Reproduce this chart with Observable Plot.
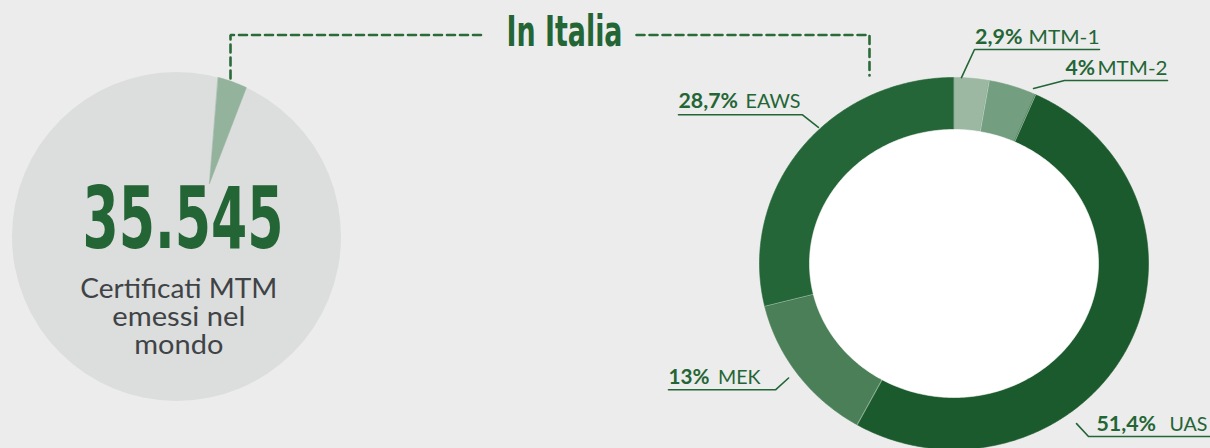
<!DOCTYPE html>
<html><head><meta charset="utf-8">
<script src="https://cdn.jsdelivr.net/npm/d3@7"></script>
<script src="https://cdn.jsdelivr.net/npm/@observablehq/plot@0.6"></script>
<style>
html,body{margin:0;padding:0;background:#ebeceb;overflow:hidden;}
#chart svg{display:block;}
</style></head><body><div id="chart"></div>
<script>
// ---------------- DATA ----------------
const categories = ["MTM-1", "MTM-2", "UAS", "MEK", "EAWS"];
const shares = [2.9, 4, 51.4, 13, 28.7];            // % of Italian certificates
const shareLabels = ["2,9%", "4%", "51,4%", "13%", "28,7%"];
const nameLabels = ["MTM-1", "MTM-2", "UAS", "MEK", "EAWS"];
const worldTotalLabel = "35.545";
const worldCaption = ["Certificati MTM", "emessi nel", "mondo"];
const italyWorldShare = [2.9];                       // Italy's share of world total (wedge)
const titleText = "In Italia";

// ---------------- STYLE / LAYOUT ----------------
const W = 1210, H = 448;
const GREEN = "#236535";
const colors = {"MTM-1": "#9cb8a3", "MTM-2": "#739e7f", "UAS": "#1b5a2c", "MEK": "#4b7f58", "EAWS": "#246637"};
const donut = {cx: 953.5, cy: 263, rx: 194.5, ry: 186, irx: 144, iry: 133.5};
const world = {cx: 176, cy: 236, r: 164.5, sliceStart: 14.7, apexDx: 33, apexDy: -53};
const labelLayout = {
  "MTM-1": {px: 974.5, pw: 47.5, nx: 1028, nw: 71, by: 43.3, uy: 49, ux0: 974, ux1: 1099, la: 2.2, lr: 1.0, side: "right"},
  "MTM-2": {px: 1065, pw: 29.5, nx: 1097, nw: 70, by: 74, uy: 80, ux0: 1064, ux1: 1167, la: 23.5, lr: 1.026, side: "right"},
  "UAS":   {px: 1096, pw: 59.6, nx: 1169, nw: 38, by: 430, uy: 436, ux0: 1088, ux1: 1212, la: 143.8, lr: 1.067, side: "right"},
  "MEK":   {px: 668, pw: 41, nx: 717.5, nw: 42.5, by: 383.3, uy: 389.3, ux0: 668, ux1: 775, la: 234.1, lr: 1.05, side: "left"},
  "EAWS":  {px: 678, pw: 59.5, nx: 745, nw: 55, by: 107.3, uy: 114.3, ux0: 678, ux1: 802, la: 316.4, lr: 1.011, side: "left"}
};

// ---------------- GEOMETRY ----------------
const rad = a => a * Math.PI / 180;
const ell = (a, rx, ry) => ({x: donut.cx + rx * Math.sin(rad(a)), y: donut.cy - ry * Math.cos(rad(a))});

let cum = 0;
const segments = categories.map((c, i) => {
  const a0 = cum * 3.6; cum += shares[i]; const a1 = cum * 3.6;
  const pts = [];
  const n = Math.max(8, Math.ceil((a1 - a0) / 0.5));
  for (let k = 0; k <= n; k++) pts.push(ell(a0 + (a1 - a0) * k / n, donut.rx, donut.ry));
  for (let k = n; k >= 0; k--) pts.push(ell(a0 + (a1 - a0) * k / n, donut.irx, donut.iry));
  return {c, a0, a1, pts};
});
const hole = d3.range(0, 360, 1).map(a => ell(a, donut.irx + 0.5, donut.iry + 0.5));
const separators = segments.map(s => [ell(s.a0, donut.irx, donut.iry), ell(s.a0, donut.rx, donut.ry)]);

// world wedge
const wa0 = world.sliceStart, wa1 = world.sliceStart + italyWorldShare[0] * 3.6;
const worldSlice = d3.range(0, 21).map(k => {
  const a = rad(wa0 + (wa1 - wa0) * k / 20);
  return {x: world.cx + world.r * Math.sin(a), y: world.cy - world.r * Math.cos(a)};
});
worldSlice.push({x: world.cx + world.apexDx, y: world.cy + world.apexDy});

// labels
const labels = categories.map((c, i) => ({c, pct: shareLabels[i], name: nameLabels[i], ...labelLayout[c]}));
const leaders = labels.map(l => {
  const end = ell(l.la, donut.rx * l.lr, donut.ry * l.lr);
  return l.side === "right"
    ? [{x: l.ux1, y: l.uy}, {x: l.ux0, y: l.uy}, end]
    : [{x: l.ux0, y: l.uy}, {x: l.ux1, y: l.uy}, end];
});

// dashed connector
const dashL = [{x: 230, y: 78}, {x: 230, y: 34.5}, {x: 481, y: 34.5}];
const dashR = [{x: 636, y: 34.5}, {x: 869, y: 34.5}, {x: 869, y: 75}];

const captionText = worldCaption.join("\n");
const capW = [197, 133, 89];

const SANS = "Lato, 'Open Sans', sans-serif";
const NARROW = "'Liberation Sans Narrow', 'DejaVu Sans Condensed', 'Liberation Sans', Roboto, sans-serif";

const marks = [
  Plot.dot([world], {x: "cx", y: "cy", r: world.r, fill: "#dcdddd"}),
  Plot.line(worldSlice, {x: "x", y: "y", curve: "linear-closed", fill: "#93b39c", stroke: "#93b39c", strokeWidth: 0.5}),
  ...segments.map(s => Plot.line(s.pts, {x: "x", y: "y", curve: "linear-closed", fill: colors[s.c], stroke: colors[s.c], strokeWidth: 0.6})),
  ...separators.map(p => Plot.line(p, {x: "x", y: "y", stroke: "#ffffff", strokeOpacity: 0.45, strokeWidth: 0.9})),
  Plot.line(hole, {x: "x", y: "y", curve: "linear-closed", fill: "#ffffff", stroke: "#ffffff", strokeWidth: 0.6}),
  ...[dashL, dashR].map(p => Plot.line(p, {x: "x", y: "y", stroke: "#2b6b3a", strokeWidth: 2.6, strokeDasharray: "8,5", strokeLinejoin: "miter"})),
  ...leaders.map(p => Plot.line(p, {x: "x", y: "y", stroke: GREEN, strokeWidth: 1.6, strokeLinejoin: "miter"})),
  // text marks (order matters for fitting below)
  Plot.text(labels, {x: "px", y: "by", text: "pct", textAnchor: "start", lineAnchor: "bottom", fontFamily: SANS, fontWeight: 700, fontSize: 20, fill: GREEN}),
  Plot.text(labels, {x: "nx", y: "by", text: "name", textAnchor: "start", lineAnchor: "bottom", fontFamily: SANS, fontWeight: 400, fontSize: 20, fill: GREEN}),
  Plot.text([titleText], {x: () => 564, y: () => 45, text: d => d, textAnchor: "middle", lineAnchor: "bottom", fontFamily: NARROW, fontWeight: 700, fontSize: 42, fill: GREEN}),
  Plot.text([worldTotalLabel], {x: () => 182.5, y: () => 247, text: d => d, textAnchor: "middle", lineAnchor: "bottom", fontFamily: NARROW, fontWeight: 700, fontSize: 86, fill: GREEN}),
  Plot.text([captionText], {x: () => 178.3, y: () => 353, text: d => d, textAnchor: "middle", lineAnchor: "bottom", lineHeight: 28 / 27, fontFamily: SANS, fontWeight: 400, fontSize: 27, fill: "#404346"})
];

const svg = Plot.plot({
  width: W, height: H, margin: 0,
  x: {domain: [0, W], range: [0, W], axis: null},
  y: {domain: [0, H], range: [0, H], axis: null},
  style: {background: "#ebeceb", overflow: "visible"},
  marks
});

const textGroups = svg.querySelectorAll('g[aria-label="text"]');
function fit(group, widths, sel) {
  if (!group) return;
  d3.select(group).selectAll(sel).each(function (d, i) {
    if (widths[i] != null) d3.select(this).attr("textLength", widths[i]).attr("lengthAdjust", "spacingAndGlyphs");
  });
}
fit(textGroups[0], labels.map(l => l.pw), "text");
fit(textGroups[1], labels.map(l => l.nw), "text");
fit(textGroups[2], [116], "text");
fit(textGroups[3], [201], "text");
fit(textGroups[4], capW, "tspan");

document.getElementById("chart").appendChild(svg);
</script></body></html>
